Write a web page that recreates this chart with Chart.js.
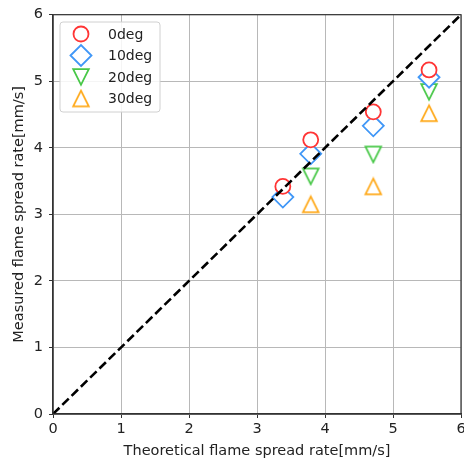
<!DOCTYPE html>
<html>
<head>
<meta charset="utf-8">
<script src="https://cdn.jsdelivr.net/npm/chart.js@4/dist/chart.umd.min.js"></script>
<style>
  html, body { margin: 0; padding: 0; background: #fff; overflow: hidden; }
  #wrap { width: 480px; height: 462px; }
</style>
</head>
<body>
<div id="wrap"><canvas id="scatterChart" width="480" height="462"></canvas></div>
<script>
// values
const seriesNames = ['0deg', '10deg', '20deg', '30deg'];
const theory0 = [3.38, 3.79, 4.71, 5.53];
const measured0 = [3.42, 4.12, 4.54, 5.17];
const theory10 = [3.38, 3.79, 4.71, 5.53];
const measured10 = [3.26, 3.91, 4.33, 5.06];
const theory20 = [3.79, 4.71, 5.53];
const measured20 = [3.57, 3.9, 4.84];
const theory30 = [3.79, 4.71, 5.53];
const measured30 = [3.15, 3.42, 4.52];
const diagonal = [0, 6];
const axisTicks = [0, 1, 2, 3, 4, 5, 6];

const colors = ['#ff3535', '#4097f7', '#48c848', '#ffaa1c'];

// matplotlib-like triangles (width == height, centred on their box)
function triangleMarker(color, down) {
  const c = document.createElement('canvas');
  const s = 20, h = 7.8;
  c.width = s; c.height = s;
  const g = c.getContext('2d');
  const m = s / 2;
  g.beginPath();
  if (down) {
    g.moveTo(m - h, m - h); g.lineTo(m + h, m - h); g.lineTo(m, m + h);
  } else {
    g.moveTo(m, m - h); g.lineTo(m + h, m + h); g.lineTo(m - h, m + h);
  }
  g.closePath();
  g.fillStyle = '#ffffff';
  g.fill();
  g.lineWidth = 1.8;
  g.lineJoin = 'miter';
  g.strokeStyle = color;
  g.stroke();
  return c;
}

const shapes = [
  { style: 'circle', r: 7.5 },
  { style: 'rectRot', r: 10.5 },
  { style: triangleMarker(colors[2], true), r: 10 },
  { style: triangleMarker(colors[3], false), r: 10 }
];

function toPoints(xs, ys) {
  return xs.map((x, i) => ({ x: x, y: ys[i] }));
}

const pointSets = [
  toPoints(theory0, measured0),
  toPoints(theory10, measured10),
  toPoints(theory20, measured20),
  toPoints(theory30, measured30)
];

const datasets = pointSets.map((pts, i) => ({
  label: seriesNames[i],
  data: pts,
  showLine: false,
  pointStyle: shapes[i].style,
  pointRadius: shapes[i].r,
  pointHoverRadius: shapes[i].r,
  pointBorderWidth: 1.8,
  pointBorderColor: colors[i],
  pointBackgroundColor: '#ffffff',
  order: 2
}));

datasets.push({
  label: 'y=x',
  data: toPoints(diagonal, diagonal),
  showLine: true,
  borderColor: '#000000',
  borderWidth: 2.6,
  borderDash: [9, 4],
  pointRadius: 0,
  fill: false,
  order: 1
});

// frame around the plot area (top and right sides too)
const framePlugin = {
  id: 'frame',
  afterDraw(chart) {
    const a = chart.chartArea, ctx = chart.ctx;
    ctx.save();
    ctx.strokeStyle = '#333';
    ctx.lineWidth = 1.2;
    ctx.strokeRect(a.left, a.top, a.right - a.left, a.bottom - a.top);
    ctx.restore();
  }
};

// legend box in the upper left corner
const legendPlugin = {
  id: 'boxLegend',
  afterDraw(chart) {
    const ctx = chart.ctx;
    const bx = 60, by = 22, bw = 100, bh = 90;
    ctx.save();
    ctx.beginPath();
    ctx.roundRect(bx, by, bw, bh, 3);
    ctx.fillStyle = 'rgba(255,255,255,0.85)';
    ctx.fill();
    ctx.strokeStyle = '#d0d0d0';
    ctx.lineWidth = 1;
    ctx.stroke();
    seriesNames.forEach((name, i) => {
      const cy = 34 + i * 21.5;
      ctx.strokeStyle = colors[i];
      ctx.fillStyle = '#ffffff';
      ctx.lineWidth = 1.8;
      Chart.helpers.drawPoint(ctx, {
        pointStyle: shapes[i].style,
        rotation: 0,
        radius: shapes[i].r,
        borderWidth: 1.8
      }, 81, cy);
      ctx.fillStyle = '#222';
      ctx.font = '14px "DejaVu Sans"';
      ctx.textBaseline = 'middle';
      ctx.textAlign = 'left';
      ctx.fillText(name, 108, cy + 1);
    });
    ctx.restore();
  }
};

const tickFont = { family: 'DejaVu Sans', size: 14.5 };

new Chart(document.getElementById('scatterChart').getContext('2d'), {
  type: 'scatter',
  data: { datasets: datasets },
  plugins: [framePlugin, legendPlugin],
  options: {
    responsive: false,
    animation: false,
    layout: { padding: { top: 14, right: 19, left: 0, bottom: 0 } },
    scales: {
      x: {
        type: 'linear',
        min: 0,
        max: 6,
        afterBuildTicks: (scale) => { scale.ticks = axisTicks.map(v => ({ value: v })); },
        afterFit: (scale) => { scale.height = 48; },
        ticks: { font: tickFont, color: '#222', padding: 3, maxRotation: 0 },
        grid: { color: '#b8b8b8', lineWidth: 1, tickLength: 4, tickColor: '#333' },
        border: { color: '#333', width: 1.2 },
        title: {
          display: true,
          text: 'Theoretical flame spread rate[mm/s]',
          font: tickFont,
          color: '#222',
          padding: { top: 0, bottom: 2 }
        }
      },
      y: {
        type: 'linear',
        min: 0,
        max: 6,
        afterBuildTicks: (scale) => { scale.ticks = axisTicks.map(v => ({ value: v })); },
        afterFit: (scale) => { scale.width = 53; },
        ticks: { font: tickFont, color: '#222', padding: 6 },
        grid: { color: '#b8b8b8', lineWidth: 1, tickLength: 4, tickColor: '#333' },
        border: { color: '#333', width: 1.2 },
        title: {
          display: true,
          text: 'Measured flame spread rate[mm/s]',
          font: tickFont,
          color: '#222',
          padding: { top: 11, bottom: 0 }
        }
      }
    },
    plugins: {
      legend: { display: false },
      tooltip: { enabled: false }
    }
  }
});
</script>
</body>
</html>
